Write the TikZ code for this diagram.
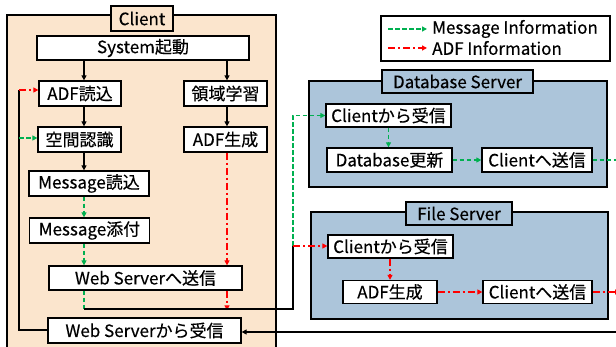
\documentclass[tikz,border=0pt]{standalone}
\usepackage{fontspec}
\setmainfont{Noto Sans CJK JP}[FakeBold=0.35]
\usetikzlibrary{arrows.meta,calc}
\definecolor{peach}{RGB}{251,229,205}
\definecolor{steel}{RGB}{172,197,218}
\definecolor{msggreen}{RGB}{0,176,80}
\definecolor{adfred}{RGB}{255,0,0}

\begin{document}
\begin{tikzpicture}[x=1pt,y=-1pt,
  lbl/.style={font=\fontsize{17}{20}\selectfont},
  stepbox/.style={draw, fill=white, line width=1.3pt, inner sep=0pt, minimum height=24pt, lbl},
  region/.style={draw, line width=1.6pt},
  title/.style={draw, line width=1.4pt, inner sep=0pt, minimum height=23pt, lbl},
  tip/.style={-{Triangle[length=5pt,width=5pt]}},
  plain/.style={black, line width=1.3pt},
  msg/.style={msggreen, line width=1.7pt, dash pattern=on 4.5pt off 2.5pt},
  adf/.style={adfred, line width=1.7pt, dash pattern=on 7pt off 3pt on 2pt off 3pt},
]
\useasboundingbox (0,0) rectangle (616,347);
\clip (0,0) rectangle (616,347);

% region frames
\draw[region, fill=peach] (7,15) rectangle (276,360);
\draw[region, fill=steel] (309,81) rectangle (607,187);
\draw[region, fill=steel] (311,212) rectangle (608,319);

% region titles
\node[title, fill=peach, minimum width=62pt, minimum height=25pt] (clientT) at (142,18.5) {Client};
\node[title, fill=steel, minimum width=151pt] (dbT) at (457.5,81.5) {Database Server};
\node[title, fill=steel, minimum width=106pt] (fsT) at (459,213.5) {File Server};

% client steps
\node[stepbox, minimum width=212pt] (boot) at (143,48) {System起動};
\node[stepbox, minimum width=82pt, minimum height=25pt] (adfload) at (80,93.5) {ADF読込};
\node[stepbox, minimum width=83pt, minimum height=25pt] (learn) at (225.5,93.5) {領域学習};
\node[stepbox, minimum width=83pt, minimum height=25pt] (space) at (79.5,139.5) {空間認識};
\node[stepbox, minimum width=83pt, minimum height=25pt] (adfgen) at (225.5,139.5) {ADF生成};
\node[stepbox, minimum width=120pt, minimum height=25pt] (msgload) at (89,183.5) {Message読込};
\node[stepbox, minimum width=120pt, minimum height=25pt] (msgadd) at (89.5,230.5) {Message添付};
\node[stepbox, minimum width=193pt] (wsend) at (145.5,278) {Web Serverへ送信};
\node[stepbox, minimum width=193pt, minimum height=25pt] (wrecv) at (144.5,330.5) {Web Serverから受信};

% database server steps
\node[stepbox, minimum width=125pt, minimum height=23pt] (dbrecv) at (388.5,115.5) {Clientから受信};
\node[stepbox, minimum width=125pt] (dbupd) at (389.5,160) {Database更新};
\node[stepbox, minimum width=110pt] (dbsend) at (537,160) {Clientへ送信};

% file server steps
\node[stepbox, minimum width=125pt, minimum height=23pt] (fsrecv) at (390.5,246.5) {Clientから受信};
\node[stepbox, minimum width=94pt, minimum height=23pt] (fsgen) at (390,292) {ADF生成};
\node[stepbox, minimum width=109pt, minimum height=23pt] (fssend) at (537.5,292) {Clientへ送信};

% routing points
\coordinate (colL) at (84,0);
\coordinate (colR) at (227,0);
\coordinate (joinL) at (84,309);
\coordinate (joinR) at (293,309);
\coordinate (split) at (293,246);
\coordinate (bus) at (19,330);
\coordinate (busTop) at (19,90);
\coordinate (busMid) at (19,138);
\coordinate (dbOut) at (618,160);
\coordinate (fsOut) at (620,292);
\coordinate (retIn) at (618,332);

% client flow
\draw[plain, tip] (boot.south -| colL) -- (adfload.north -| colL);
\draw[plain, tip] (boot.south -| colR) -- (learn.north -| colR);
\draw[plain, tip] (adfload.south -| colL) -- (space.north -| colL);
\draw[plain, tip] (learn.south -| colR) -- (adfgen.north -| colR);
\draw[plain, tip] (space.south -| colL) -- (msgload.north -| colL);
\draw[msg, tip] (msgload.south -| colL) -- (msgadd.north -| colL);
\draw[msg, tip] (msgadd.south -| colL) -- (wsend.north -| colL);
\draw[adf, tip] (adfgen.south -| colR) -- (wsend.north -| colR);

% outgoing to servers
\draw[msg] (wsend.south -| colL) -- (joinL);
\draw[adf, tip] (wsend.south -| colR) -- ([yshift=-1.3pt]joinL -| colR);
\draw[plain] (joinL) -- (joinR) -- (split);
\draw[msg, tip] (split) |- (dbrecv.west);
\draw[adf, tip] (split) -- (fsrecv.west |- split);

% database server flow
\draw[msg, tip] (dbrecv.south) -- (dbupd.north -| dbrecv.south);
\draw[msg, tip] (dbupd) -- (dbsend);
\draw[msg] (dbsend) -- (dbOut);

% file server flow
\draw[adf, tip] (fsrecv.south -| fsgen) -- (fsgen.north);
\draw[adf, tip] (fsgen) -- (fssend);
\draw[adf, tip] (fssend) -- (fsOut);

% returning replies
\draw[plain, tip] (retIn) -- (wrecv.east |- retIn);
\draw[plain] (wrecv.west |- bus) -- (bus) -- (busTop);
\draw[adf, tip] (busTop) -- (adfload.west |- busTop);
\draw[msg, tip] (busMid) -- (space.west |- busMid);

% legend
\draw[line width=1.4pt] (381,16) rectangle (610,61);
\coordinate (lgA) at (388,29);
\coordinate (lgB) at (427,29);
\coordinate (lgC) at (388,48);
\coordinate (lgD) at (427,48);
\draw[msg, tip] (lgA) -- (lgB);
\draw[adf, tip] (lgC) -- (lgD);
\node[lbl, anchor=west, inner sep=0pt] (lgMsg) at (432,29) {Message Information};
\node[lbl, anchor=west, inner sep=0pt] (lgAdf) at (432,48) {ADF Information};
\end{tikzpicture}
\end{document}
